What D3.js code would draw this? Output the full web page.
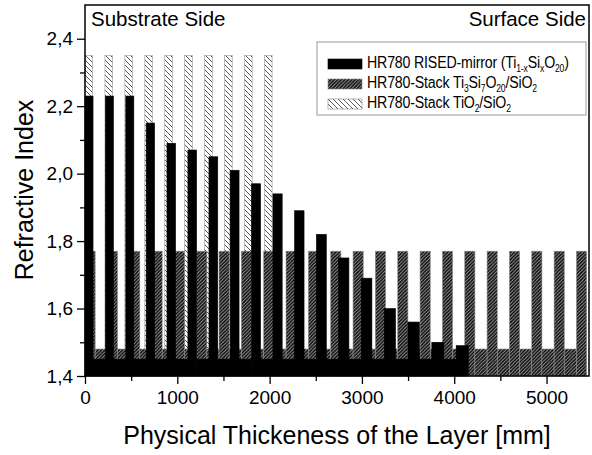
<!DOCTYPE html>
<html>
<head>
<meta charset="utf-8">
<script src="https://cdn.jsdelivr.net/npm/d3@7"></script>
<style>
body { margin: 0; background: #fff; }
svg { font-family: "Liberation Sans", Arial, sans-serif; }
</style>
</head>
<body>
<script>
// layer data (index and physical thickness in nm)
// RISED mirror: graded high layers separated by low-index layers
var risedHigh = [2.23, 2.23, 2.23, 2.15, 2.09, 2.07, 2.05, 2.01, 1.97, 1.94, 1.89, 1.82, 1.75, 1.69, 1.60, 1.56, 1.50, 1.49];
var risedHighThk = [87, 87, 87, 91, 93, 94, 95, 97, 99, 100, 103, 107, 111, 115, 122, 125, 130, 131];
var risedLow = [1.45];
var risedLowThk = [134];

// Ti3Si7O20 / SiO2 stack
var ternHigh = [1.77];
var ternHighThk = [110];
var ternLow = [1.48];
var ternLowThk = [132];
var ternPairs = 23;

// TiO2 / SiO2 stack
var tioHigh = [2.35];
var tioHighThk = [83];
var tioLow = [1.46];
var tioLowThk = [133];
var tioPairs = 10;

var xTicks = [0, 1000, 2000, 3000, 4000, 5000];
var yTicks = [1.4, 1.6, 1.8, 2.0, 2.2, 2.4];

// build a layer list: high, low, high, ... ending with a high layer
function buildLayers(highN, highT, lowN, lowT, count) {
    var layers = [], pos = 0;
    for (var i = 0; i < count; i++) {
        var hn = highN[Math.min(i, highN.length - 1)];
        var ht = highT[Math.min(i, highT.length - 1)];
        layers.push({ x0: pos, x1: pos + ht, n: hn });
        pos += ht;
        if (i < count - 1) {
            layers.push({ x0: pos, x1: pos + lowT[0], n: lowN[0] });
            pos += lowT[0];
        }
    }
    return layers;
}

var rised = buildLayers(risedHigh, risedHighThk, risedLow, risedLowThk, risedHigh.length);
var tern = buildLayers(ternHigh, ternHighThk, ternLow, ternLowThk, ternPairs);
var tio = buildLayers(tioHigh, tioHighThk, tioLow, tioLowThk, tioPairs);

var width = 592, height = 455;
var margin = { left: 85, right: 3, top: 5, bottom: 79 };

var svg = d3.select("body").append("svg")
    .attr("width", width)
    .attr("height", height);

var defs = svg.append("defs");
// light hatch "\\\"
var pl = defs.append("pattern")
    .attr("id", "hatchLight")
    .attr("patternUnits", "userSpaceOnUse")
    .attr("width", 5).attr("height", 5);
pl.append("rect").attr("width", 5).attr("height", 5).attr("fill", "#fff");
pl.append("path").attr("d", "M-1,-1 L6,6 M-1,4 L1,6 M4,-1 L6,1")
    .attr("stroke", "#444").attr("stroke-width", 0.9);
// dark hatch "///"
var pd = defs.append("pattern")
    .attr("id", "hatchDark")
    .attr("patternUnits", "userSpaceOnUse")
    .attr("width", 3.5).attr("height", 3.5);
pd.append("rect").attr("width", 3.5).attr("height", 3.5).attr("fill", "#ccc");
pd.append("path").attr("d", "M-1,4.5 L4.5,-1 M-1,1 L1,-1 M2.5,4.5 L4.5,2.5")
    .attr("stroke", "#111").attr("stroke-width", 1.8);

var x = d3.scaleLinear()
    .domain([0, 5460])
    .range([margin.left, width - margin.right]);

var y = d3.scaleLinear()
    .domain([1.4, 2.5])
    .range([height - margin.bottom, margin.top]);

function drawLayers(data, fill, stroke) {
    svg.append("g")
        .selectAll("rect")
        .data(data)
        .enter().append("rect")
        .attr("x", function(d) { return x(d.x0); })
        .attr("width", function(d) { return x(d.x1) - x(d.x0); })
        .attr("y", function(d) { return y(d.n); })
        .attr("height", function(d) { return y(1.4) - y(d.n); })
        .attr("fill", fill)
        .attr("stroke", stroke)
        .attr("stroke-width", 0.6);
}

drawLayers(tio, "url(#hatchLight)", "#999");
drawLayers(tern, "url(#hatchDark)", "#888");
drawLayers(rised, "#000", "#000");

// axes
var fmt = function(d) { return d3.format(".1f")(d).replace(".", ","); };

svg.append("g")
    .attr("transform", "translate(0," + y(1.4) + ")")
    .call(d3.axisBottom(x).tickValues(xTicks).tickFormat(d3.format("d")).tickSize(8).tickPadding(7));
svg.append("g")
    .attr("transform", "translate(0," + y(1.4) + ")")
    .call(d3.axisBottom(x).tickValues(d3.range(500, 5460, 1000)).tickSize(5).tickFormat(""));

svg.append("g")
    .attr("transform", "translate(" + x(0) + ",0)")
    .call(d3.axisLeft(y).tickValues(yTicks).tickFormat(fmt).tickSize(8).tickPadding(4));
svg.append("g")
    .attr("transform", "translate(" + x(0) + ",0)")
    .call(d3.axisLeft(y).tickValues([1.5, 1.7, 1.9, 2.1, 2.3]).tickSize(5).tickFormat(""));

svg.selectAll(".domain").remove();
svg.selectAll(".tick line").attr("stroke", "#000").attr("stroke-width", 1.3);
svg.selectAll(".tick text").attr("font-size", 19).attr("fill", "#000")
    .attr("font-family", "'Liberation Sans', Arial, sans-serif");

// frame
svg.append("rect")
    .attr("x", x(0)).attr("y", y(2.5))
    .attr("width", x(5460) - x(0))
    .attr("height", y(1.4) - y(2.5))
    .attr("fill", "none")
    .attr("stroke", "#000")
    .attr("stroke-width", 1.5);

// side labels
svg.append("text")
    .attr("x", x(0) + 6).attr("y", 26)
    .attr("font-size", 20.5)
    .text("Substrate Side");
svg.append("text")
    .attr("x", x(5460) - 3).attr("y", 26)
    .attr("font-size", 20.5)
    .attr("text-anchor", "end")
    .text("Surface Side");

// axis titles
svg.append("text")
    .attr("transform", "translate(33,190) rotate(-90)")
    .attr("text-anchor", "middle")
    .attr("font-size", 25)
    .text("Refractive Index");
svg.append("text")
    .attr("x", 337).attr("y", 444)
    .attr("text-anchor", "middle")
    .attr("font-size", 25)
    .text("Physical Thickeness of the Layer [mm]");

// legend
var legend = svg.append("g").attr("transform", "translate(317,42)");
legend.append("rect")
    .attr("width", 269).attr("height", 73)
    .attr("fill", "#fff")
    .attr("stroke", "#999")
    .attr("stroke-width", 1);

var legendItems = [
    { fill: "#000", parts: [["HR780 RISED-mirror (Ti"], ["1-x", 1], ["Si"], ["x", 1], ["O"], ["20", 1], [")"]] },
    { fill: "url(#hatchDark)", parts: [["HR780-Stack Ti"], ["3", 1], ["Si"], ["7", 1], ["O"], ["20", 1], ["/SiO"], ["2", 1]] },
    { fill: "url(#hatchLight)", parts: [["HR780-Stack TiO"], ["2", 1], ["/SiO"], ["2", 1]] }
];

legendItems.forEach(function(item, i) {
    var g = legend.append("g").attr("transform", "translate(11," + (17 + i * 20) + ")");
    g.append("rect")
        .attr("width", 34).attr("height", 10)
        .attr("fill", item.fill)
        .attr("stroke", item.fill === "#000" ? "#000" : "#888")
        .attr("stroke-width", 0.6);
    // narrow lettering, as in the original legend
    var t = g.append("text")
        .attr("transform", "translate(39,8.5) scale(0.86,1)")
        .attr("font-size", 16.5)
        .attr("letter-spacing", -0.2);
    item.parts.forEach(function(p, k) {
        var ts = t.append("tspan").text(p[0]);
        if (p[1]) {
            ts.attr("font-size", 10).attr("dy", 4);
        } else if (k > 0) {
            ts.attr("dy", -4);
        }
    });
});
</script>
</body>
</html>
